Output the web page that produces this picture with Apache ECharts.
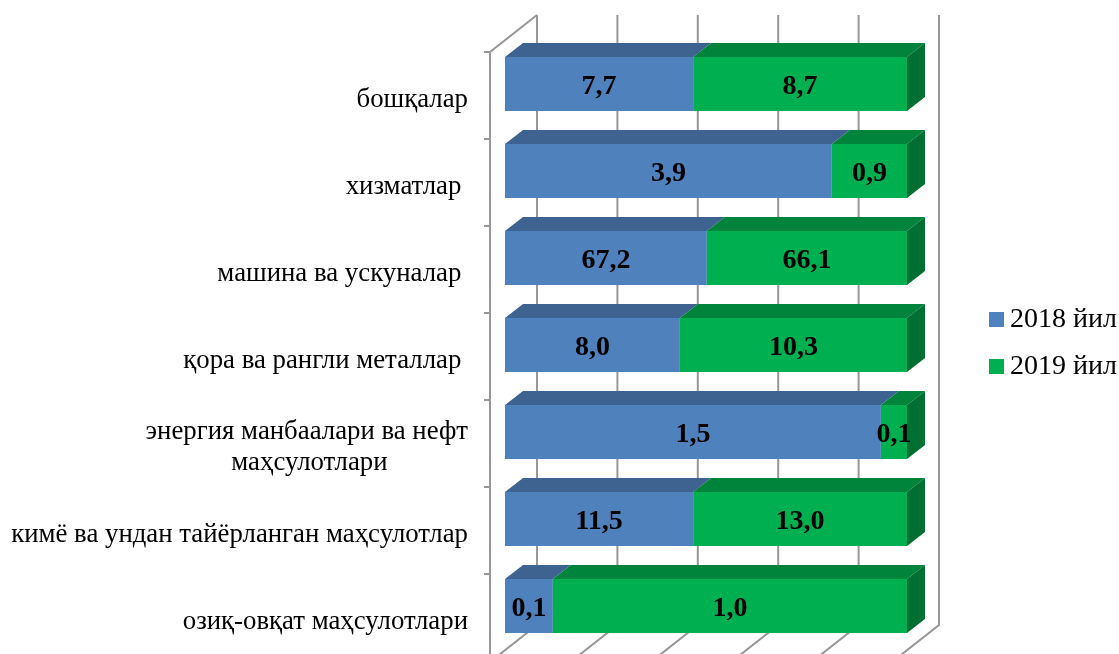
<!DOCTYPE html>
<html><head><meta charset="utf-8">
<style>html,body{margin:0;padding:0;background:#fff}#c{width:1119px;height:654px}</style>
<script src="https://cdn.jsdelivr.net/npm/echarts@6/dist/echarts.min.js"></script>
</head><body><div id="c"></div>
<script>
const categories = ["бошқалар","хизматлар ","машина ва ускуналар ","қора ва рангли металлар ","энергия манбаалари ва нефт\nмаҳсулотлари            ","кимё ва ундан тайёрланган маҳсулотлар","озиқ-овқат маҳсулотлари"];
const seriesNames = ["2018 йил","2019 йил"];
const labels2018 = ["7,7","3,9","67,2","8,0","1,5","11,5","0,1"];
const labels2019 = ["8,7","0,9","66,1","10,3","0,1","13,0","1,0"];
const share2018 = [46.8,81.3,50.2,43.5,93.5,46.8,11.9];
const share2019 = [53.2,18.7,49.8,56.5,6.5,53.2,88.1];
const axisTicks = [0,20,40,60,80,100];

const FONT = '"Liberation Serif"';
const DX = 18, DY = -14, BAR_H = 54;
const WX0 = 32, WY0 = -25.5, WY1 = 584.5, FX = -47, FY = 37;
const LINE = {stroke:'#979797', lineWidth:2, fill:null};

function poly(pts, fill){ return {type:'polygon', shape:{points:pts}, style:{fill:fill}}; }

function barSeries(name, labels, shares, starts, cFront, cTop, cSide, last){
  return {
    type:'custom', name:name, coordinateSystem:'cartesian2d',
    itemStyle:{color:cFront}, z:3,
    encode:{x:[1,2], y:0},
    data: categories.map((c,i)=>[i, starts[i], starts[i]+shares[i], labels[i]]),
    renderItem:(p,api)=>{
      const a = api.coord([api.value(1), api.value(0)]);
      const b = api.coord([api.value(2), api.value(0)]);
      const t = a[1]-BAR_H/2, u = a[1]+BAR_H/2;
      const ch = [
        poly([[a[0],t],[b[0],t],[b[0]+DX,t+DY],[a[0]+DX,t+DY]], cTop),
        {type:'rect', shape:{x:a[0],y:t,width:b[0]-a[0],height:BAR_H}, style:{fill:cFront}}
      ];
      if(last) ch.push(poly([[b[0],t],[b[0]+DX,t+DY],[b[0]+DX,u+DY],[b[0],u]], cSide));
      ch.push({type:'text', style:{text:labels[p.dataIndex], x:(a[0]+b[0])/2, y:a[1]+3, align:'center', verticalAlign:'middle',
        font:'bold 28px '+FONT, fill:'#000'}});
      return {type:'group', children:ch};
    }
  };
}

const chart = echarts.init(document.getElementById('c'), null, {renderer:'canvas'});
chart.setOption({
  backgroundColor:'#fff', animation:false,
  legend:{orient:'vertical', left:984, top:300, itemWidth:15, itemHeight:15, itemGap:18, data:seriesNames,
    icon:'rect', textStyle:{fontFamily:FONT, fontSize:28, color:'#000', lineHeight:29, padding:[0,0,0,1]}},
  grid:{left:505, top:40.5, width:402, height:609},
  xAxis:{type:'value', min:0, max:100, interval:20, show:false},
  yAxis:{type:'category', inverse:true, data:categories, axisLine:{show:false}, axisTick:{show:false}, splitLine:{show:false},
    axisLabel:{fontFamily:FONT, fontSize:26.8, color:'#000', margin:37, lineHeight:31, interval:0, formatter:v=>'\n'+v}},
  series:[
    {type:'custom', name:'wall', silent:true, coordinateSystem:'cartesian2d', z:1, encode:{x:0},
     data:axisTicks.map(v=>[v]), clip:false,
     renderItem:(p,api)=>{
       const cs=p.coordSys, x=api.coord([api.value(0),0])[0]+WX0, top=cs.y+WY0, bot=cs.y+WY1;
       const ch=[{type:'polyline',shape:{points:[[x,top],[x,bot],[x+FX,bot+FY]]},style:LINE}];
       if(p.dataIndex===0){
         ch.push({type:'polyline',shape:{points:[[x,top],[x+FX,top+FY],[x+FX,bot+FY]]},style:LINE});
         categories.forEach((c,i)=>{ const y=top+FY+cs.height/categories.length*i;
           ch.push({type:'line',shape:{x1:x+FX-6,y1:y,x2:x+FX,y2:y},style:{stroke:LINE.stroke,lineWidth:2}}); });
       }
       return {type:'group',children:ch};
     }},
    barSeries(seriesNames[0], labels2018, share2018, categories.map(()=>0), '#4F81BD','#3E6390','#325075', false),
    barSeries(seriesNames[1], labels2019, share2019, share2018, '#00B050','#00843C','#006F32', true)
  ]
});
</script></body></html>
